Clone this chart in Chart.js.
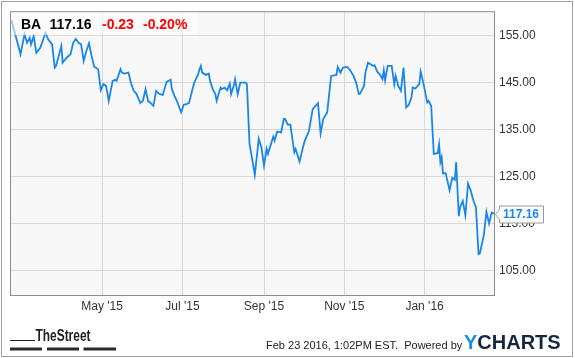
<!DOCTYPE html>
<html>
<head>
<meta charset="utf-8">
<script src="https://cdn.jsdelivr.net/npm/chart.js@4/dist/chart.umd.min.js"></script>
<style>
html,body{margin:0;padding:0;background:#fff;}
canvas{display:block;}
</style>
</head>
<body>
<canvas id="c" width="575" height="358" style="width:575px;height:358px"></canvas>
<script>
// Days since 2015-02-20
const days = [1,4,8,11,13,15,16,18,20,23,27,29,32,34,35,39,40,43,46,48,50,52,54,56,58,60,62,64,67,69,71,73,75,78,80,81,84,85,87,90,92,94,96,99,101,103,105,106,109,111,113,116,119,122,123,125,127,130,132,134,136,138,140,143,144,145,146,149,151,152,154,156,157,160,161,163,165,167,168,170,171,173,175,179,180,182,186,189,191,193,195,196,200,201,203,206,208,209,211,213,216,217,220,222,224,227,230,234,236,238,241,244,248,249,251,253,256,258,261,263,265,266,269,270,272,274,276,277,279,281,283,284,285,287,290,292,293,295,297,299,301,303,305,306,308,311,312,314,317,318,320,322,325,326,327,328,329,331,334,336,338,339,341,342,344,346,348,350,352,354,356,357,360,362,364,366,368];
const prices = [158.23,155.21,150.98,155.21,153.44,154.49,153.10,154.85,151.32,152.38,155.55,154.15,153.10,148.15,148.51,152.74,149.21,150.26,150.98,153.44,154.28,153.44,153.10,149.57,151.68,153.31,150.62,148.36,147.81,143.37,144.64,144.28,141.11,145.34,145.55,145.34,147.81,147.09,146.88,147.09,144.77,143.22,142.65,140.62,141.11,143.58,140.96,140.90,140.05,143.22,142.65,142.31,145.13,145.61,143.58,142.17,140.96,138.64,140.26,140.41,140.62,142.86,144.98,146.75,147.81,148.51,147.09,146.61,146.88,145.34,143.58,142.53,141.11,143.92,143.58,143.92,143.37,144.77,142.53,144.28,145.70,142.53,144.98,144.98,144.64,131.96,125.40,133.01,131.24,127.37,130.90,129.84,133.50,132.65,134.56,134.41,137.24,137.24,136.04,136.04,130.18,130.90,128.21,130.54,132.65,134.56,139.36,140.62,134.20,137.24,138.64,146.40,146.61,148.30,147.09,148.15,148.30,147.81,146.40,144.98,142.53,142.65,144.28,147.09,149.21,148.87,148.51,148.66,147.30,146.75,145.70,147.60,145.49,148.51,148.51,144.64,146.40,144.28,143.22,148.15,139.69,140.26,141.81,143.92,143.71,144.64,147.30,144.98,140.75,141.11,140.05,129.84,129.97,131.81,128.07,129.12,125.68,125.74,122.08,124.77,124.35,128.07,116.59,118.55,119.82,116.80,123.50,122.08,119.97,118.55,108.55,108.70,112.57,117.50,115.04,117.40,117.16];
const tickDays = [70,131,193,254,315];
const tickLabels = ["May '15","Jul '15","Sep '15","Nov '15","Jan '16"];
const yTicks = [105,115,125,135,145,155];
const ticker = 'BA';
const lastPrice = '117.16';
const change = '-0.23';
const changePct = '-0.20%';
const stamp = 'Feb 23 2016, 1:02PM EST.  Powered by';

const LINE = '#1a87e6';
const FONT = '"Liberation Sans", Arial, sans-serif';

const deco = {
  id: 'deco',
  beforeDraw(chart) {
    const {ctx, chartArea: a} = chart;
    ctx.save();
    ctx.fillStyle = '#fff';
    ctx.fillRect(0, 0, chart.width, chart.height);
    ctx.fillStyle = '#f7f7f7';
    ctx.fillRect(a.left, a.top, a.right - a.left, a.bottom - a.top);
    ctx.restore();
  },
  afterDraw(chart) {
    const {ctx, chartArea: a} = chart;
    const ys = chart.scales.y;
    ctx.save();
    // plot border
    ctx.strokeStyle = '#8c8c8c';
    ctx.lineWidth = 1;
    ctx.strokeRect(a.left + 0.5, a.top + 0.5, a.right - a.left - 1, a.bottom - a.top);
    // header box
    ctx.fillStyle = 'rgba(255,255,255,0.55)';
    ctx.fillRect(a.left + 1, a.top + 1, 187, 23);
    ctx.font = 'bold 14px ' + FONT;
    ctx.textBaseline = 'alphabetic';
    ctx.fillStyle = '#000';
    ctx.fillText(ticker, 21, 29);
    ctx.fillText(lastPrice, 49.5, 29);
    ctx.fillStyle = '#f00';
    ctx.fillText(change, 102, 29);
    ctx.fillText(changePct, 143, 29);
    // last value label
    const last = prices[prices.length - 1];
    const y = Math.round(ys.getPixelForValue(last)) + 0.5;
    const x0 = a.right + 4.5, w = 44, h = 17, top = y - 8.5, tip = a.right + 0.5;
    ctx.beginPath();
    ctx.moveTo(x0, top);
    ctx.lineTo(x0 + w, top);
    ctx.lineTo(x0 + w, top + h);
    ctx.lineTo(x0, top + h);
    ctx.lineTo(x0, y + 5);
    ctx.lineTo(tip, y);
    ctx.lineTo(x0, y - 5);
    ctx.closePath();
    ctx.fillStyle = '#fff';
    ctx.fill();
    ctx.strokeStyle = '#9a9a9a';
    ctx.stroke();
    ctx.fillStyle = LINE;
    ctx.font = 'bold 12px ' + FONT;
    ctx.textBaseline = 'middle';
    ctx.fillText(last.toFixed(2), x0 + 3.5, y + 0.5);
    // footer: TheStreet (condensed)
    ctx.textBaseline = 'alphabetic';
    ctx.fillStyle = '#1e1e1e';
    ctx.font = 'bold 16px ' + FONT;
    const tw = ctx.measureText('TheStreet').width;
    ctx.save();
    ctx.translate(35.5, 341);
    ctx.scale(55 / tw, 1);
    ctx.fillText('TheStreet', 0, 0);
    ctx.restore();
    ctx.fillRect(10, 340, 25, 1);
    ctx.fillStyle = '#2a2a2a';
    ctx.fillRect(10, 347.5, 32, 3);
    ctx.fillRect(47, 347.5, 32, 3);
    ctx.fillRect(83.5, 347.5, 32.5, 3);
    // footer: stamp
    ctx.fillStyle = '#222';
    ctx.font = '11px ' + FONT;
    ctx.fillText(stamp, 266, 348.5);
    // YCHARTS
    ctx.font = 'bold 20px ' + FONT;
    ctx.fillStyle = '#1a8fe3';
    ctx.fillText('Y', 464, 349);
    const yw = ctx.measureText('Y').width;
    ctx.fillStyle = '#13293d';
    ctx.fillText('CHARTS', 464 + yw, 349);
    // outer frame
    ctx.strokeStyle = '#a0a0a0';
    ctx.lineWidth = 1;
    ctx.strokeRect(1.5, 1.5, 571, 355);
    ctx.restore();
  }
};

new Chart(document.getElementById('c'), {
  type: 'line',
  data: {
    datasets: [{
      data: days.map((d, i) => ({x: d, y: prices[i]})),
      borderColor: LINE,
      borderWidth: 1.8,
      pointRadius: 0,
      tension: 0,
      fill: false
    }]
  },
  options: {
    responsive: false,
    animation: false,
    devicePixelRatio: 1,
    layout: {padding: {left: 10, top: 10, right: 0, bottom: 0}},
    plugins: {legend: {display: false}, tooltip: {enabled: false}},
    scales: {
      x: {
        type: 'linear',
        min: 0,
        max: 368.5,
        afterBuildTicks(s) { s.ticks = tickDays.map(v => ({value: v})); },
        afterFit(s) { s.height = 63; },
        grid: {color: '#d9d9d9', lineWidth: 1, drawTicks: false},
        border: {display: false},
        ticks: {
          autoSkip: false,
          maxRotation: 0,
          padding: 4,
          color: '#333',
          font: {family: FONT, size: 12},
          callback(v) { const i = tickDays.indexOf(v); return i >= 0 ? tickLabels[i] : ''; }
        }
      },
      y: {
        position: 'right',
        min: 99.86,
        max: 160.14,
        afterBuildTicks(s) { s.ticks = yTicks.map(v => ({value: v})); },
        afterFit(s) { s.width = 80; },
        grid: {color: '#d9d9d9', lineWidth: 1, drawTicks: false},
        border: {display: false},
        ticks: {
          padding: 4,
          color: '#333',
          font: {family: FONT, size: 12},
          callback(v) { return Number(v).toFixed(2); }
        }
      }
    }
  },
  plugins: [deco]
});
</script>
</body>
</html>
